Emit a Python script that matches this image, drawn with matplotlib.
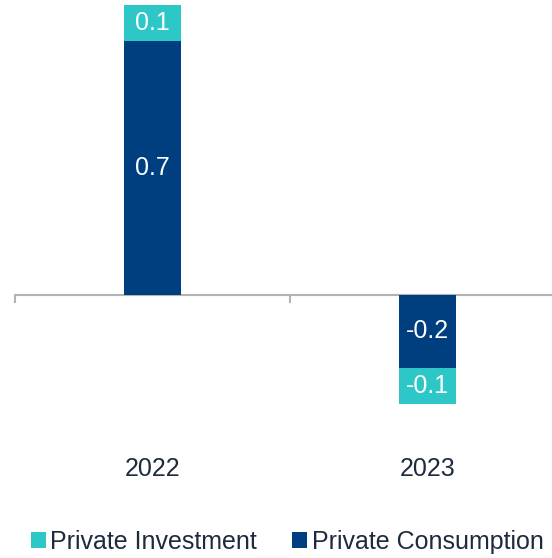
import matplotlib
matplotlib.use("Agg")
import matplotlib.pyplot as plt
from matplotlib.patches import Patch

plt.rcParams["font.family"] = ["Liberation Sans", "DejaVu Sans"]

years = ["2022", "2023"]
consumption = [0.7, -0.2]
investment = [0.1, -0.1]

c_inv = "#2EC7C7"
c_cons = "#003F7F"
text_dark = "#1E2A3E"
axis_grey = "#B3B3B3"

fig = plt.figure(figsize=(5.52, 5.58), dpi=100)
# axes spans the full height and runs a little past the right edge
ax = fig.add_axes([15 / 552, 0.0, 550 / 552, 1.0])
ax.set_xlim(-0.5, 1.5)
ax.set_ylim(-263 / 362.5, 295 / 362.5)

x = list(range(len(years)))
width = 0.21
ax.bar(x, consumption, width, color=c_cons, edgecolor="none", zorder=2)
inv_bottom = [c for c in consumption]
ax.bar(x, investment, width, bottom=inv_bottom, color=c_inv, edgecolor="none", zorder=2)

for xi, c, i in zip(x, consumption, investment):
    ax.text(xi, c / 2, f"{c:.1f}", ha="center", va="center", color="white", fontsize=18)
    ax.text(xi, c + i / 2, f"{i:.1f}", ha="center", va="center", color="white", fontsize=18)
    ax.text(xi, -0.48, years[xi], ha="center", va="center", color=text_dark, fontsize=18)

for s in ["top", "right", "left"]:
    ax.spines[s].set_visible(False)
ax.spines["bottom"].set_position(("data", 0))
ax.spines["bottom"].set_color(axis_grey)
ax.spines["bottom"].set_linewidth(1.5)
ax.spines["bottom"].set_zorder(1)
ax.set_xticks([-0.5, 0.5, 1.5])
ax.tick_params(axis="x", direction="out", length=6, width=1.5, color=axis_grey,
               labelbottom=False)
ax.set_yticks([])

handles = [Patch(facecolor=c_inv, edgecolor="none", label="Private Investment"),
           Patch(facecolor=c_cons, edgecolor="none", label="Private Consumption")]
fig.legend(handles=handles, loc="center left", bbox_to_anchor=(31 / 552, 1 - 542 / 558),
           ncol=2, frameon=False, fontsize=18, handlelength=0.6, handleheight=0.6,
           handletextpad=0.18, columnspacing=1.4, borderpad=0, borderaxespad=0,
           labelcolor=text_dark)

fig.savefig("out.png", dpi=100)
